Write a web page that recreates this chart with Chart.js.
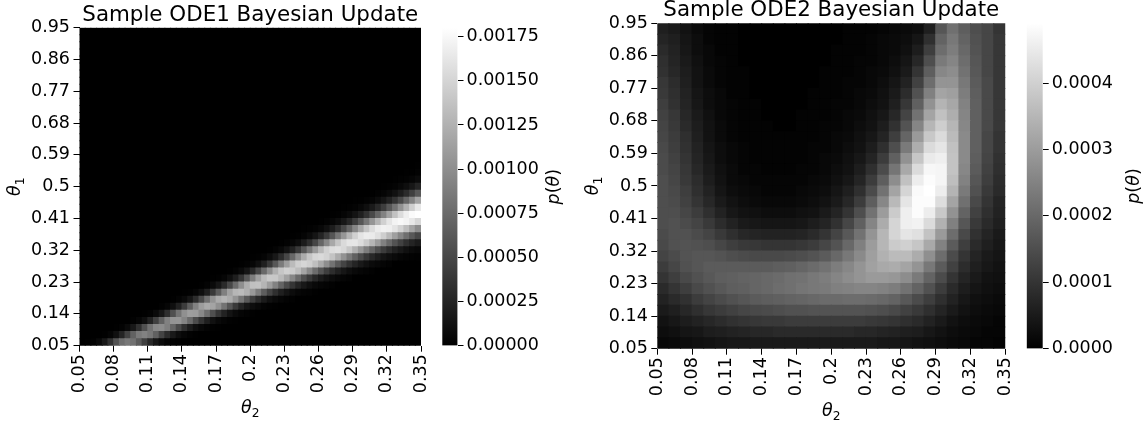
<!DOCTYPE html>
<html>
<head>
<meta charset="utf-8">
<script src="https://cdn.jsdelivr.net/npm/chart.js@4/dist/chart.umd.min.js"></script>
<style>
  html, body { margin: 0; padding: 0; background: #fff; }
  body { width: 1147px; height: 425px; position: relative; overflow: hidden; }
  canvas { position: absolute; top: 0; }
</style>
</head>
<body>
<canvas id="heat1" width="455" height="425" style="left:0px"></canvas>
<canvas id="cbar1" width="140" height="425" style="left:430px"></canvas>
<canvas id="heat2" width="465" height="425" style="left:575px"></canvas>
<canvas id="cbar2" width="132" height="425" style="left:1015px"></canvas>
<script>
// ---- grid coordinates -------------------------------------------------
const theta2Ticks = [0.05,0.08,0.11,0.14,0.17,0.2,0.23,0.26,0.29,0.32,0.35];
const theta2TickLabels = ['0.05','0.08','0.11','0.14','0.17','0.2','0.23','0.26','0.29','0.32','0.35'];
const theta1Ticks = [0.05,0.14,0.23,0.32,0.41,0.5,0.59,0.68,0.77,0.86,0.95];
const theta1TickLabels = ['0.05','0.14','0.23','0.32','0.41','0.5','0.59','0.68','0.77','0.86','0.95'];

// ODE1 grid: theta2 cell centres (columns) and theta1 cell centres (rows, bottom to top)
const ode1Theta2Cells = [0.0525,0.0575,0.0625,0.0675,0.0725,0.0775,0.0825,0.0875,0.0925,0.0975,
                         0.1025,0.1075,0.1125,0.1175,0.1225,0.1275,0.1325,0.1375,0.1425,0.1475,
                         0.1525,0.1575,0.1625,0.1675,0.1725,0.1775,0.1825,0.1875,0.1925,0.1975,
                         0.2025,0.2075,0.2125,0.2175,0.2225,0.2275,0.2325,0.2375,0.2425,0.2475,
                         0.2525,0.2575,0.2625,0.2675,0.2725,0.2775,0.2825,0.2875,0.2925,0.2975,
                         0.3025,0.3075,0.3125,0.3175,0.3225,0.3275,0.3325,0.3375,0.3425,0.3475];
const ode1Theta1Cells = [0.06,0.08,0.10,0.12,0.14,0.16,0.18,0.20,0.22,0.24,0.26,0.28,0.30,0.32,0.34,
                         0.36,0.38,0.40,0.42,0.44,0.46,0.48,0.50,0.52,0.54,0.56,0.58,0.60,0.62,0.64,
                         0.66,0.68,0.70,0.72,0.74,0.76,0.78,0.80,0.82,0.84,0.86,0.88,0.90,0.92,0.94];
// ODE2 grid
const ode2Theta2Cells = [0.055,0.065,0.075,0.085,0.095,0.105,0.115,0.125,0.135,0.145,
                         0.155,0.165,0.175,0.185,0.195,0.205,0.215,0.225,0.235,0.245,
                         0.255,0.265,0.275,0.285,0.295,0.305,0.315,0.325,0.335,0.345];
const ode2Theta1Cells = [0.065,0.095,0.125,0.155,0.185,0.215,0.245,0.275,0.305,0.335,
                         0.365,0.395,0.425,0.455,0.485,0.515,0.545,0.575,0.605,0.635,
                         0.665,0.695,0.725,0.755,0.785,0.815,0.845,0.875,0.905,0.935];

// posterior density p(theta), in units of 1e-6; one row per theta1 cell
const DENSITY_UNIT = 1e-6;
const ode1Density = [
  [0,4,17,61,168,348,577,771,849,795, 643,450,281,158,81,38,16,6,2,0, 0,0,0,0,0,0,0,0,0,0, 0,0,0,0,0,0,0,0,0,0, 0,0,0,0,0,0,0,0,0,0, 0,0,0,0,0,0,0,0,0,0],
  [0,0,0,2,9,37,110,256,464,690, 865,919,843,682,483,309,180,94,46,20, 9,3,0,0,0,0,0,0,0,0, 0,0,0,0,0,0,0,0,0,0, 0,0,0,0,0,0,0,0,0,0, 0,0,0,0,0,0,0,0,0,0],
  [0,0,0,0,0,0,5,21,68,170, 342,573,803,960,991,895,716,513,330,195, 106,54,26,12,5,0,0,0,0,0, 0,0,0,0,0,0,0,0,0,0, 0,0,0,0,0,0,0,0,0,0, 0,0,0,0,0,0,0,0,0,0],
  [0,0,0,0,0,0,0,0,3,12, 40,108,244,449,688,914,1047,1052,935,747, 538,357,217,121,65,32,14,6,0,0, 0,0,0,0,0,0,0,0,0,0, 0,0,0,0,0,0,0,0,0,0, 0,0,0,0,0,0,0,0,0,0],
  [0,0,0,0,0,0,0,0,0,0, 0,6,24,68,165,330,556,809,1015,1118, 1101,971,779,568,381,237,137,73,37,20, 10,0,0,0,0,0,0,0,0,0, 0,0,0,0,0,0,0,0,0,0, 0,0,0,0,0,0,0,0,0,0],
  [0,0,0,0,0,0,0,0,0,0, 0,0,0,3,13,42,107,233,425,666, 916,1108,1200,1160,1019,809,599,406,254,155, 93,53,29,15,8,0,0,0,0,0, 0,0,0,0,0,0,0,0,0,0, 0,0,0,0,0,0,0,0,0,0],
  [0,0,0,0,0,0,0,0,0,0, 0,0,0,0,0,2,7,25,68,158, 309,529,786,1035,1209,1268,1205,1048,831,626, 438,295,190,115,69,39,22,12,0,0, 0,0,0,0,0,0,0,0,0,0, 0,0,0,0,0,0,0,0,0,0],
  [0,0,0,0,0,0,0,0,0,0, 0,0,0,0,0,0,0,0,4,15, 44,104,221,404,645,907,1138,1286,1322,1242, 1080,877,667,481,334,221,143,88,52,31, 18,10,0,0,0,0,0,0,0,0, 0,0,0,0,0,0,0,0,0,0],
  [0,0,0,0,0,0,0,0,0,0, 0,0,0,0,0,0,0,0,0,0, 2,9,26,69,153,295,498,755,1011,1231, 1359,1372,1276,1112,917,709,522,374,256,166, 108,67,42,25,14,0,0,0,0,0, 0,0,0,0,0,0,0,0,0,0],
  [0,0,0,0,0,0,0,0,0,0, 0,0,0,0,0,0,0,0,0,0, 0,0,0,5,16,44,103,211,375,610, 881,1133,1321,1417,1411,1310,1142,946,747,559, 409,286,193,129,84,53,34,20,0,0, 0,0,0,0,0,0,0,0,0,0],
  [0,0,0,0,0,0,0,0,0,0, 0,0,0,0,0,0,0,0,0,0, 0,0,0,0,0,3,10,28,68,151, 290,493,740,998,1238,1400,1470,1443,1337,1166, 968,771,596,440,317,224,152,102,67,43, 27,17,0,0,0,0,0,0,0,0],
  [0,0,0,0,0,0,0,0,0,0, 0,0,0,0,0,0,0,0,0,0, 0,0,0,0,0,0,0,0,6,19, 49,113,222,389,611,866,1110,1323,1464,1509, 1465,1349,1193,1003,813,631,482,350,254,179, 122,81,54,36,23,0,0,0,0,0],
  [0,0,0,0,0,0,0,0,0,0, 0,0,0,0,0,0,0,0,0,0, 0,0,0,0,0,0,0,0,0,0, 4,14,37,84,173,308,498,732,983,1214, 1398,1509,1542,1491,1377,1218,1032,846,677,521, 387,281,203,142,98,68,44,30,19,13],
  [0,0,0,0,0,0,0,0,0,0, 0,0,0,0,0,0,0,0,0,0, 0,0,0,0,0,0,0,0,0,0, 0,0,3,10,27,64,131,239,404,607, 839,1083,1298,1466,1564,1580,1525,1408,1246,1064, 880,714,551,423,316,231,166,116,80,56],
  [0,0,0,0,0,0,0,0,0,0, 0,0,0,0,0,0,0,0,0,0, 0,0,0,0,0,0,0,0,0,0, 0,0,0,0,0,7,20,48,99,189, 318,497,717,956,1189,1390,1539,1617,1624,1556, 1436,1281,1100,910,740,588,457,342,257,191],
  [0,0,0,0,0,0,0,0,0,0, 0,0,0,0,0,0,0,0,0,0, 0,0,0,0,0,0,0,0,0,0, 0,0,0,0,0,0,0,6,15,36, 78,145,253,407,599,830,1061,1286,1476,1609, 1669,1661,1583,1458,1299,1126,945,777,623,495],
  [0,0,0,0,0,0,0,0,0,0, 0,0,0,0,0,0,0,0,0,0, 0,0,0,0,0,0,0,0,0,0, 0,0,0,0,0,0,0,0,0,4, 12,28,60,115,205,332,506,713,945,1172, 1386,1555,1664,1705,1686,1608,1488,1333,1158,986],
  [0,0,0,0,0,0,0,0,0,0, 0,0,0,0,0,0,0,0,0,0, 0,0,0,0,0,0,0,0,0,0, 0,0,0,0,0,0,0,0,0,0, 0,3,9,22,46,91,162,271,421,604, 823,1053,1270,1466,1617,1716,1749,1719,1642,1525],
  [0,0,0,0,0,0,0,0,0,0, 0,0,0,0,0,0,0,0,0,0, 0,0,0,0,0,0,0,0,0,0, 0,0,0,0,0,0,0,0,0,0, 0,0,0,0,7,17,37,71,131,220, 349,514,710,921,1147,1367,1552,1687,1774,1801],
  [0,0,0,0,0,0,0,0,0,0, 0,0,0,0,0,0,0,0,0,0, 0,0,0,0,0,0,0,0,0,0, 0,0,0,0,0,0,0,0,0,0, 0,0,0,0,0,0,6,13,29,58, 105,182,290,430,611,815,1031,1250,1464,1639],
  [0,0,0,0,0,0,0,0,0,0, 0,0,0,0,0,0,0,0,0,0, 0,0,0,0,0,0,0,0,0,0, 0,0,0,0,0,0,0,0,0,0, 0,0,0,0,0,0,0,0,4,10, 23,45,85,145,237,363,518,710,921,1150],
  [0,0,0,0,0,0,0,0,0,0, 0,0,0,0,0,0,0,0,0,0, 0,0,0,0,0,0,0,0,0,0, 0,0,0,0,0,0,0,0,0,0, 0,0,0,0,0,0,0,0,0,0, 0,8,18,37,69,120,196,302,443,612],
  [0,0,0,0,0,0,0,0,0,0, 0,0,0,0,0,0,0,0,0,0, 0,0,0,0,0,0,0,0,0,0, 0,0,0,0,0,0,0,0,0,0, 0,0,0,0,0,0,0,0,0,0, 0,0,0,7,14,30,54,97,162,255],
  [0,0,0,0,0,0,0,0,0,0, 0,0,0,0,0,0,0,0,0,0, 0,0,0,0,0,0,0,0,0,0, 0,0,0,0,0,0,0,0,0,0, 0,0,0,0,0,0,0,0,0,0, 0,0,0,0,0,5,12,24,45,81],
  [0,0,0,0,0,0,0,0,0,0, 0,0,0,0,0,0,0,0,0,0, 0,0,0,0,0,0,0,0,0,0, 0,0,0,0,0,0,0,0,0,0, 0,0,0,0,0,0,0,0,0,0, 0,0,0,0,0,0,0,4,9,20],
  [0,0,0,0,0,0,0,0,0,0, 0,0,0,0,0,0,0,0,0,0, 0,0,0,0,0,0,0,0,0,0, 0,0,0,0,0,0,0,0,0,0, 0,0,0,0,0,0,0,0,0,0, 0,0,0,0,0,0,0,0,0,4],
  [0,0,0,0,0,0,0,0,0,0, 0,0,0,0,0,0,0,0,0,0, 0,0,0,0,0,0,0,0,0,0, 0,0,0,0,0,0,0,0,0,0, 0,0,0,0,0,0,0,0,0,0, 0,0,0,0,0,0,0,0,0,0],
  [0,0,0,0,0,0,0,0,0,0, 0,0,0,0,0,0,0,0,0,0, 0,0,0,0,0,0,0,0,0,0, 0,0,0,0,0,0,0,0,0,0, 0,0,0,0,0,0,0,0,0,0, 0,0,0,0,0,0,0,0,0,0],
  [0,0,0,0,0,0,0,0,0,0, 0,0,0,0,0,0,0,0,0,0, 0,0,0,0,0,0,0,0,0,0, 0,0,0,0,0,0,0,0,0,0, 0,0,0,0,0,0,0,0,0,0, 0,0,0,0,0,0,0,0,0,0],
  [0,0,0,0,0,0,0,0,0,0, 0,0,0,0,0,0,0,0,0,0, 0,0,0,0,0,0,0,0,0,0, 0,0,0,0,0,0,0,0,0,0, 0,0,0,0,0,0,0,0,0,0, 0,0,0,0,0,0,0,0,0,0],
  [0,0,0,0,0,0,0,0,0,0, 0,0,0,0,0,0,0,0,0,0, 0,0,0,0,0,0,0,0,0,0, 0,0,0,0,0,0,0,0,0,0, 0,0,0,0,0,0,0,0,0,0, 0,0,0,0,0,0,0,0,0,0],
  [0,0,0,0,0,0,0,0,0,0, 0,0,0,0,0,0,0,0,0,0, 0,0,0,0,0,0,0,0,0,0, 0,0,0,0,0,0,0,0,0,0, 0,0,0,0,0,0,0,0,0,0, 0,0,0,0,0,0,0,0,0,0],
  [0,0,0,0,0,0,0,0,0,0, 0,0,0,0,0,0,0,0,0,0, 0,0,0,0,0,0,0,0,0,0, 0,0,0,0,0,0,0,0,0,0, 0,0,0,0,0,0,0,0,0,0, 0,0,0,0,0,0,0,0,0,0],
  [0,0,0,0,0,0,0,0,0,0, 0,0,0,0,0,0,0,0,0,0, 0,0,0,0,0,0,0,0,0,0, 0,0,0,0,0,0,0,0,0,0, 0,0,0,0,0,0,0,0,0,0, 0,0,0,0,0,0,0,0,0,0],
  [0,0,0,0,0,0,0,0,0,0, 0,0,0,0,0,0,0,0,0,0, 0,0,0,0,0,0,0,0,0,0, 0,0,0,0,0,0,0,0,0,0, 0,0,0,0,0,0,0,0,0,0, 0,0,0,0,0,0,0,0,0,0],
  [0,0,0,0,0,0,0,0,0,0, 0,0,0,0,0,0,0,0,0,0, 0,0,0,0,0,0,0,0,0,0, 0,0,0,0,0,0,0,0,0,0, 0,0,0,0,0,0,0,0,0,0, 0,0,0,0,0,0,0,0,0,0],
  [0,0,0,0,0,0,0,0,0,0, 0,0,0,0,0,0,0,0,0,0, 0,0,0,0,0,0,0,0,0,0, 0,0,0,0,0,0,0,0,0,0, 0,0,0,0,0,0,0,0,0,0, 0,0,0,0,0,0,0,0,0,0],
  [0,0,0,0,0,0,0,0,0,0, 0,0,0,0,0,0,0,0,0,0, 0,0,0,0,0,0,0,0,0,0, 0,0,0,0,0,0,0,0,0,0, 0,0,0,0,0,0,0,0,0,0, 0,0,0,0,0,0,0,0,0,0],
  [0,0,0,0,0,0,0,0,0,0, 0,0,0,0,0,0,0,0,0,0, 0,0,0,0,0,0,0,0,0,0, 0,0,0,0,0,0,0,0,0,0, 0,0,0,0,0,0,0,0,0,0, 0,0,0,0,0,0,0,0,0,0],
  [0,0,0,0,0,0,0,0,0,0, 0,0,0,0,0,0,0,0,0,0, 0,0,0,0,0,0,0,0,0,0, 0,0,0,0,0,0,0,0,0,0, 0,0,0,0,0,0,0,0,0,0, 0,0,0,0,0,0,0,0,0,0],
  [0,0,0,0,0,0,0,0,0,0, 0,0,0,0,0,0,0,0,0,0, 0,0,0,0,0,0,0,0,0,0, 0,0,0,0,0,0,0,0,0,0, 0,0,0,0,0,0,0,0,0,0, 0,0,0,0,0,0,0,0,0,0],
  [0,0,0,0,0,0,0,0,0,0, 0,0,0,0,0,0,0,0,0,0, 0,0,0,0,0,0,0,0,0,0, 0,0,0,0,0,0,0,0,0,0, 0,0,0,0,0,0,0,0,0,0, 0,0,0,0,0,0,0,0,0,0],
  [0,0,0,0,0,0,0,0,0,0, 0,0,0,0,0,0,0,0,0,0, 0,0,0,0,0,0,0,0,0,0, 0,0,0,0,0,0,0,0,0,0, 0,0,0,0,0,0,0,0,0,0, 0,0,0,0,0,0,0,0,0,0],
  [0,0,0,0,0,0,0,0,0,0, 0,0,0,0,0,0,0,0,0,0, 0,0,0,0,0,0,0,0,0,0, 0,0,0,0,0,0,0,0,0,0, 0,0,0,0,0,0,0,0,0,0, 0,0,0,0,0,0,0,0,0,0],
  [0,0,0,0,0,0,0,0,0,0, 0,0,0,0,0,0,0,0,0,0, 0,0,0,0,0,0,0,0,0,0, 0,0,0,0,0,0,0,0,0,0, 0,0,0,0,0,0,0,0,0,0, 0,0,0,0,0,0,0,0,0,0],
  [0,0,0,0,0,0,0,0,0,0, 0,0,0,0,0,0,0,0,0,0, 0,0,0,0,0,0,0,0,0,0, 0,0,0,0,0,0,0,0,0,0, 0,0,0,0,0,0,0,0,0,0, 0,0,0,0,0,0,0,0,0,0]
];
const ode2Density = [
  [15,20,25,30,35,40,45,45,50,50, 50,50,50,50,50,50,50,50,50,45, 45,40,35,30,25,20,15,10,10,5],
  [25,30,40,45,55,60,65,70,75,75, 80,80,80,80,80,80,80,75,75,70, 65,60,55,45,35,25,20,15,10,10],
  [35,45,55,65,75,85,95,100,105,110, 110,115,115,115,115,115,115,115,110,105, 100,90,80,65,50,35,25,20,15,10],
  [50,60,75,90,105,115,125,135,140,145, 150,155,155,160,160,160,160,160,155,150, 140,125,110,90,70,50,35,25,20,15],
  [65,80,95,115,130,145,155,165,175,180, 185,190,195,200,205,205,210,210,205,200, 190,170,145,120,90,65,45,30,25,20],
  [80,100,120,140,155,170,180,185,195,200, 210,215,225,230,235,245,250,255,255,250, 240,220,190,155,115,80,55,40,30,25],
  [100,120,140,155,170,180,185,190,195,200, 205,215,220,230,240,255,270,285,295,295, 290,270,235,190,145,100,70,50,35,30],
  [115,135,155,165,175,175,175,175,175,175, 180,185,195,205,220,240,260,285,310,325, 330,315,285,230,175,125,85,60,45,35],
  [130,145,160,165,165,160,150,145,140,140, 140,145,150,160,175,200,230,265,305,340, 360,360,330,275,210,145,100,70,50,40],
  [140,155,160,155,150,135,120,110,105,100, 100,100,105,115,135,160,200,245,300,350, 390,400,380,325,250,175,120,80,60,45],
  [145,155,155,145,130,110,90,75,70,65, 65,65,70,80,100,130,170,220,285,350, 410,440,430,375,295,210,140,95,70,50],
  [150,155,145,130,110,85,65,50,45,40, 40,40,45,55,70,95,135,185,255,330, 410,460,465,420,340,245,165,110,80,60],
  [150,150,135,115,90,65,45,35,30,25, 25,25,30,35,50,70,100,150,220,300, 390,460,485,455,385,280,190,125,90,65],
  [150,145,125,100,75,50,35,25,20,15, 15,15,20,25,35,50,75,115,180,260, 355,440,485,485,425,315,215,140,100,70],
  [150,140,120,90,65,40,25,20,15,10, 10,10,15,20,25,40,60,90,145,220, 315,410,480,490,455,345,235,155,110,80],
  [150,135,110,85,55,35,20,15,10,10, 10,10,10,15,20,30,45,70,115,180, 270,370,455,485,470,365,250,165,120,85],
  [145,130,105,75,50,30,20,10,10,5, 5,5,10,10,15,25,35,55,90,145, 225,325,420,475,470,375,260,175,125,90],
  [145,125,100,70,45,25,15,10,5,5, 5,5,5,10,15,20,30,45,70,115, 185,280,380,450,460,375,265,180,130,95],
  [140,120,95,65,40,25,15,10,5,5, 5,5,5,10,10,15,25,35,55,90, 150,235,335,420,440,370,265,185,135,100],
  [135,115,90,60,35,20,10,5,5,5, 5,5,5,5,10,15,20,30,45,70, 120,195,295,385,420,360,265,185,135,100],
  [130,110,80,55,35,20,10,5,5,5, 0,0,5,5,10,10,15,25,35,55, 95,160,255,350,395,350,260,185,140,105],
  [125,105,75,50,30,15,10,5,5,0, 0,0,5,5,5,10,15,20,30,45, 75,130,220,315,370,335,255,185,140,105],
  [120,95,70,45,25,15,10,5,5,0, 0,0,0,5,5,10,10,15,25,35, 60,105,185,280,345,320,250,185,140,105],
  [110,90,65,40,25,15,5,5,0,0, 0,0,0,5,5,5,10,15,20,30, 50,85,155,245,315,305,240,180,140,105],
  [105,85,60,35,20,10,5,5,0,0, 0,0,0,0,5,5,10,10,15,25, 40,65,125,210,285,285,230,175,140,105],
  [95,75,55,35,20,10,5,5,0,0, 0,0,0,0,5,5,5,10,15,20, 30,50,100,180,260,270,220,170,135,105],
  [90,70,50,30,15,10,5,0,0,0, 0,0,0,0,0,5,5,10,10,15, 25,40,75,150,235,255,210,165,135,105],
  [80,65,45,25,15,5,5,0,0,0, 0,0,0,0,0,5,5,5,10,15, 20,30,55,120,210,240,200,160,135,105],
  [70,60,40,25,10,5,5,0,0,0, 0,0,0,0,0,0,5,5,10,15, 20,25,40,90,190,230,190,155,135,105],
  [60,50,35,20,10,5,5,0,0,0, 0,0,0,0,0,0,5,5,5,10, 15,20,25,60,165,215,180,150,135,100]
];

// colour-bar ticks
const ode1CbarTicks = [0,0.00025,0.0005,0.00075,0.001,0.00125,0.0015,0.00175];
const ode1CbarLabels = ['0.00000','0.00025','0.00050','0.00075','0.00100','0.00125','0.00150','0.00175'];
const ode2CbarTicks = [0,0.0001,0.0002,0.0003,0.0004];
const ode2CbarLabels = ['0.0000','0.0001','0.0002','0.0003','0.0004'];

// ---- drawing helpers --------------------------------------------------
const FONT = 'DejaVu Sans';
const TICK_SIZE = 17.5;
Chart.defaults.font.family = FONT;
Chart.defaults.font.size = TICK_SIZE;
Chart.defaults.color = '#000';

function grayOf(v, vmax) {
  const g = Math.round(255 * Math.max(0, Math.min(1, v / vmax)));
  return `rgb(${g},${g},${g})`;
}

// draws a run of text pieces (mathtext-like), centred on x along the baseline
function drawPieces(ctx, pieces, x, y, rotation) {
  ctx.save();
  ctx.translate(x, y);
  ctx.rotate(rotation);
  ctx.fillStyle = '#000';
  ctx.textAlign = 'left';
  ctx.textBaseline = 'alphabetic';
  let total = 0;
  const widths = pieces.map(p => {
    ctx.font = `${p.italic ? 'italic ' : ''}${p.size}px "${FONT}"`;
    const w = ctx.measureText(p.text).width;
    total += w;
    return w;
  });
  let cx = -total / 2;
  pieces.forEach((p, i) => {
    ctx.font = `${p.italic ? 'italic ' : ''}${p.size}px "${FONT}"`;
    ctx.fillText(p.text, cx, p.dy || 0);
    cx += widths[i];
  });
  ctx.restore();
}

const thetaSub = n => [
  { text: 'θ', italic: true, size: TICK_SIZE },
  { text: String(n), size: TICK_SIZE * 0.7, dy: 4 }
];
const pTheta = [
  { text: 'p', italic: true, size: TICK_SIZE },
  { text: '(', size: TICK_SIZE },
  { text: 'θ', italic: true, size: TICK_SIZE },
  { text: ')', size: TICK_SIZE }
];

// panel title + axis labels of a heat map
const heatLabels = {
  id: 'heatLabels',
  afterDraw(chart, args, opts) {
    const { ctx, chartArea: a } = chart;
    ctx.save();
    ctx.font = `${opts.titleSize}px "${FONT}"`;
    ctx.fillStyle = '#000';
    ctx.textAlign = 'center';
    ctx.textBaseline = 'alphabetic';
    ctx.fillText(opts.title, (a.left + a.right) / 2, a.top - 7);
    ctx.restore();
    drawPieces(ctx, thetaSub(2), (a.left + a.right) / 2, a.bottom + opts.xLabelDrop, 0);
    drawPieces(ctx, thetaSub(1), a.left - opts.yLabelGap, (a.top + a.bottom) / 2, -Math.PI / 2);
  }
};

// label beside a colour bar
const cbarLabel = {
  id: 'cbarLabel',
  afterDraw(chart, args, opts) {
    const a = chart.chartArea;
    drawPieces(chart.ctx, pTheta, a.right + opts.gap, (a.top + a.bottom) / 2, -Math.PI / 2);
  }
};

function heatChart(id, cfg) {
  const vmax = Math.max(...cfg.grid.flat());
  const half = (cfg.rows[1] - cfg.rows[0]) / 2;
  const datasets = cfg.grid.map((row, k) => ({
    data: row.map(() => [cfg.rows[k] - half, cfg.rows[k] + half]),
    backgroundColor: row.map(v => grayOf(v, vmax))
  }));
  return new Chart(document.getElementById(id), {
    type: 'bar',
    data: { labels: cfg.cols.map(String), datasets },
    options: {
      responsive: false,
      animation: false,
      events: [],
      layout: { padding: { top: cfg.top, right: cfg.right, left: 0, bottom: 0 } },
      datasets: { bar: { grouped: false, categoryPercentage: 1, barPercentage: 1, borderWidth: 0, inflateAmount: 0.5 } },
      plugins: {
        legend: { display: false },
        tooltip: { enabled: false },
        heatLabels: { title: cfg.title, titleSize: 21.4, xLabelDrop: cfg.xLabelDrop, yLabelGap: 59.5 }
      },
      scales: {
        x: { type: 'category', display: false },
        xt: {
          type: 'linear', position: 'bottom', min: 0.05, max: 0.35, offset: false,
          afterBuildTicks: s => { s.ticks = theta2Ticks.map(v => ({ value: v })); },
          afterFit: s => { s.height = cfg.xAxisH; },
          ticks: { callback: (v, i) => theta2TickLabels[i], minRotation: 90, maxRotation: 90, padding: 2.5, autoSkip: false, color: '#000' },
          grid: { drawOnChartArea: false, offset: false, tickLength: 6, color: '#000', lineWidth: 1 },
          border: { display: false }
        },
        y: {
          type: 'linear', min: 0.05, max: 0.95,
          afterBuildTicks: s => { s.ticks = theta1Ticks.map(v => ({ value: v })); },
          afterFit: s => { s.width = cfg.yAxisW; },
          ticks: { callback: (v, i) => theta1TickLabels[i], padding: 3.5, autoSkip: false, color: '#000' },
          grid: { drawOnChartArea: false, tickLength: 6, color: '#000', lineWidth: 1 },
          border: { display: false }
        }
      }
    },
    plugins: [heatLabels]
  });
}

function colorBar(id, cfg) {
  const vmax = Math.max(...cfg.grid.flat()) * DENSITY_UNIT;
  return new Chart(document.getElementById(id), {
    type: 'bar',
    data: {
      labels: ['p'],
      datasets: [{
        data: [[0, vmax]],
        backgroundColor: c => {
          const a = c.chart.chartArea;
          if (!a) return '#888';
          const g = c.chart.ctx.createLinearGradient(0, a.bottom, 0, a.top);
          g.addColorStop(0, '#000');
          g.addColorStop(1, '#fff');
          return g;
        },
        borderWidth: 0,
        categoryPercentage: 1,
        barPercentage: 1
      }]
    },
    options: {
      responsive: false,
      animation: false,
      events: [],
      layout: { padding: { top: cfg.top, bottom: cfg.bottom, left: cfg.left, right: 0 } },
      plugins: { legend: { display: false }, tooltip: { enabled: false }, cbarLabel: { gap: cfg.labelGap } },
      scales: {
        x: { display: false },
        y: {
          position: 'right', min: 0, max: vmax,
          afterBuildTicks: s => { s.ticks = cfg.ticks.map(v => ({ value: v })); },
          afterFit: s => { s.width = cfg.axisW; },
          ticks: { callback: (v, i) => cfg.labels[i], padding: 3, autoSkip: false, color: '#000' },
          grid: { drawOnChartArea: false, tickLength: 6, color: '#000', lineWidth: 1 },
          border: { display: false }
        }
      }
    },
    plugins: [cbarLabel]
  });
}

heatChart('heat1', {
  grid: ode1Density, cols: ode1Theta2Cells, rows: ode1Theta1Cells, title: 'Sample ODE1 Bayesian Update',
  top: 27.7, right: 34, yAxisW: 79.5, xAxisH: 79.3, xLabelDrop: 67.5
});
colorBar('cbar1', {
  grid: ode1Density, ticks: ode1CbarTicks, labels: ode1CbarLabels,
  top: 27.7, bottom: 79.3, left: 12.3, axisW: 112.5, labelGap: 101.5
});
heatChart('heat2', {
  grid: ode2Density, cols: ode2Theta2Cells, rows: ode2Theta1Cells, title: 'Sample ODE2 Bayesian Update',
  top: 23.3, right: 34.7, yAxisW: 82.3, xAxisH: 76.3, xLabelDrop: 67.5
});
colorBar('cbar2', {
  grid: ode2Density, ticks: ode2CbarTicks, labels: ode2CbarLabels,
  top: 23.3, bottom: 76.3, left: 11.7, axisW: 104.3, labelGap: 96.3
});
</script>
</body>
</html>
